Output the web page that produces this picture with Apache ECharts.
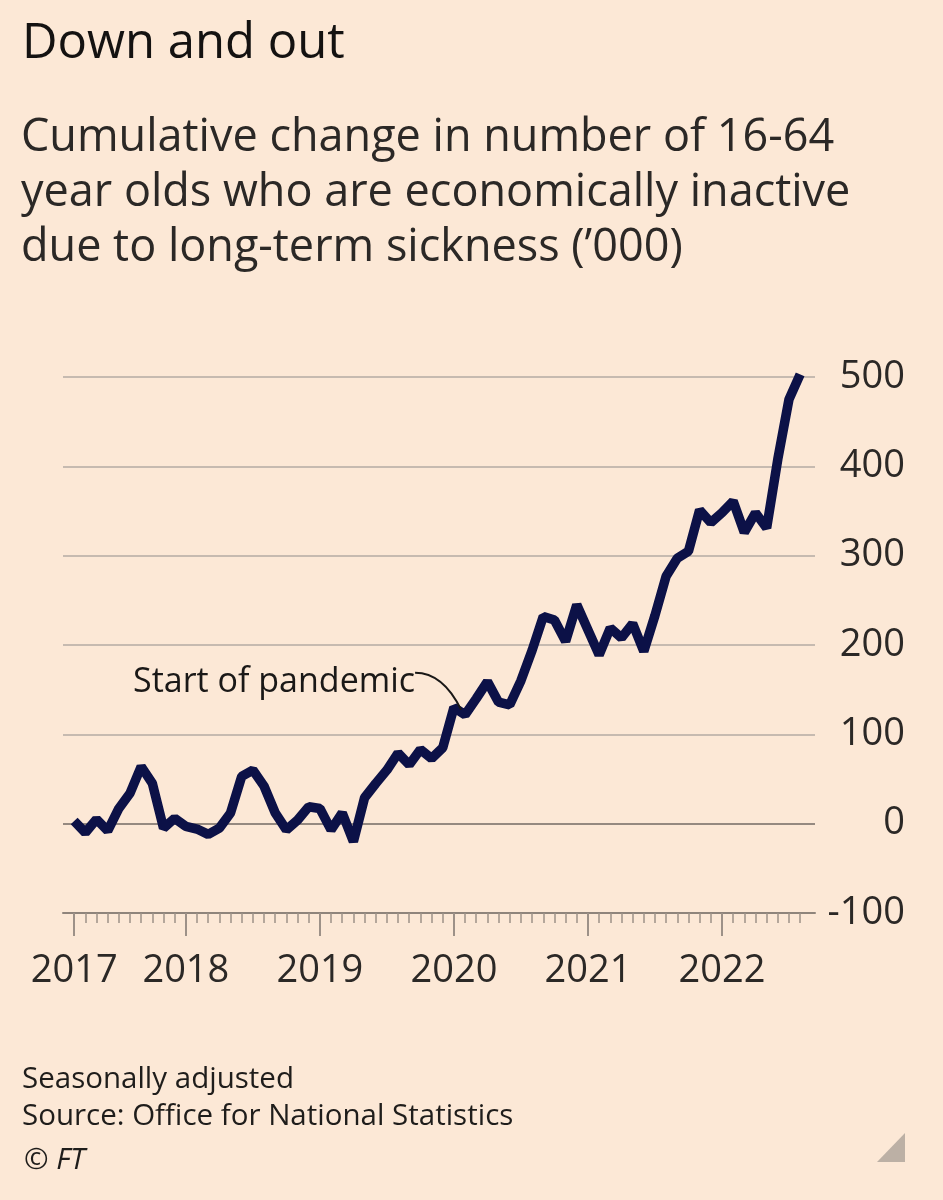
<!DOCTYPE html>
<html><head><meta charset="utf-8">
<script src="https://cdn.jsdelivr.net/npm/echarts@6/dist/echarts.min.js"></script>
<style>html,body{margin:0;padding:0;background:#fce8d6;} #c{width:943px;height:1200px;}</style>
</head><body><div id="c"></div>
<script>
// Monthly series, March 2017 to August 2022 ('000, cumulative change)
const startYear = 2017, startMonth = 3, monthCount = 66;
const values = [3,-10,5,-8,17,34,64,45,-5,6,
  -3,-6,-12,-5,12,53,60,42,12,-7,
  4,19,17,-7,12,-20,29,45,60,79,
  66,83,73,85,130,122,140,159,136,133,
  160,194,232,228,204,245,217,189,219,208,
  224,193,233,277,297,305,351,337,348,361,
  326,348,331,408,475,503];
const yearLabels = ['2017','2018','2019','2020','2021','2022'];
const yearTickMonths = ['2017-03','2018-01','2019-01','2020-01','2021-01','2022-01'];
const yTicks = [-100,0,100,200,300,400,500];
const annotationText = 'Start of pandemic';
const annotationMonth = '2020-02';

const months = [];
for (let k = 0; k < monthCount; k++) {
  const m = startMonth - 1 + k;
  const y = startYear + Math.floor(m / 12);
  const mm = (m % 12) + 1;
  months.push(y + '-' + (mm < 10 ? '0' : '') + mm);
}
const monthIdx = months.map((_, i) => i);
const yearIdx = yearTickMonths.map(m => months.indexOf(m));
const seriesData = values.map((v, i) => [i, v]);

const FONT = 'Open Sans';
const TXT = '#2b2826';
const chart = echarts.init(document.getElementById('c'), null, {renderer: 'canvas'});
const triangle = {type: 'polygon', shape: {points: [[877,1162],[905,1162],[905,1133]]}, style: {fill: '#bcb0a5'}};
chart.setOption({
  backgroundColor: '#fce8d6',
  animation: false,
  title: [
    {text: 'Down and out', left: 17, top: 15,
     textStyle: {fontFamily: FONT, fontSize: 49, fontWeight: 'normal', color: '#141211'}},
    {text: 'Cumulative change in number of 16-64\nyear olds who are economically inactive\ndue to long-term sickness (\u2019000)',
     left: 16, top: 106,
     textStyle: {fontFamily: FONT, fontSize: 45, lineHeight: 55, fontWeight: 'normal', color: TXT}},
    {text: 'Seasonally adjusted\nSource: Office for National Statistics', left: 17, top: 1056,
     textStyle: {fontFamily: FONT, fontSize: 29.5, lineHeight: 37, fontWeight: 'normal', color: '#1f1d1b'}},
    {text: '\u00A9 FT', left: 19, top: 1141,
     textStyle: {fontFamily: FONT, fontSize: 29.5, fontStyle: 'italic', fontWeight: 'normal', color: '#1f1d1b'}}
  ],
  grid: {left: 63, right: 128, top: 377, bottom: 287, containLabel: false},
  xAxis: [
    {type: 'value', min: -1, max: 66.33, position: 'bottom',
     axisLine: {show: true, onZero: false, lineStyle: {color: '#8f847b', width: 2}},
     axisTick: {show: true, customValues: monthIdx, length: 10, lineStyle: {color: '#9d9188', width: 1.5}},
     axisLabel: {show: false}, splitLine: {show: false}},
    {type: 'value', min: -1, max: 66.33, position: 'bottom',
     axisLine: {show: false, onZero: false},
     axisTick: {show: true, customValues: yearIdx, length: 23, lineStyle: {color: '#9d9188', width: 2}},
     axisLabel: {show: true, customValues: yearIdx, margin: 39,
       formatter: v => yearLabels[yearIdx.indexOf(v)] || '',
       fontFamily: FONT, fontSize: 38, color: TXT},
     splitLine: {show: false}}
  ],
  yAxis: {
    type: 'value', position: 'right', min: -100, max: 500, interval: 100,
    axisLine: {show: false}, axisTick: {show: false},
    axisLabel: {align: 'right', margin: 90, fontFamily: FONT, fontSize: 38, color: TXT,
      formatter: v => yTicks.indexOf(v) >= 0 ? String(v) : ''},
    splitLine: {show: true, lineStyle: {width: 2,
      color: ['#8f847b','#958980','#c6bab0','#c6bab0','#c6bab0','#c6bab0','#c6bab0']}}
  },
  series: [{
    type: 'line', xAxisIndex: 0, data: seriesData, showSymbol: false,
    lineStyle: {color: '#0c1147', width: 9.5}, z: 5
  }],
  graphic: [triangle]
});

const ai = months.indexOf(annotationMonth);
const p = chart.convertToPixel({xAxisIndex: 0, yAxisIndex: 0}, [ai, values[ai]]);
chart.setOption({
  graphic: [
    triangle,
    {type: 'text', x: p[0] - 50, y: p[1] - 15, z: 10,
     style: {text: annotationText, align: 'right', verticalAlign: 'bottom',
       font: '34px "' + FONT + '"', fill: '#1a1817'}},
    {type: 'bezierCurve', z: 10,
     shape: {x1: p[0] - 50, y1: p[1] - 42, cpx1: p[0] - 22, cpy1: p[1] - 42, x2: p[0] - 4, y2: p[1] - 5},
     style: {stroke: '#1a1817', lineWidth: 2, fill: null}}
  ]
});
</script></body></html>
